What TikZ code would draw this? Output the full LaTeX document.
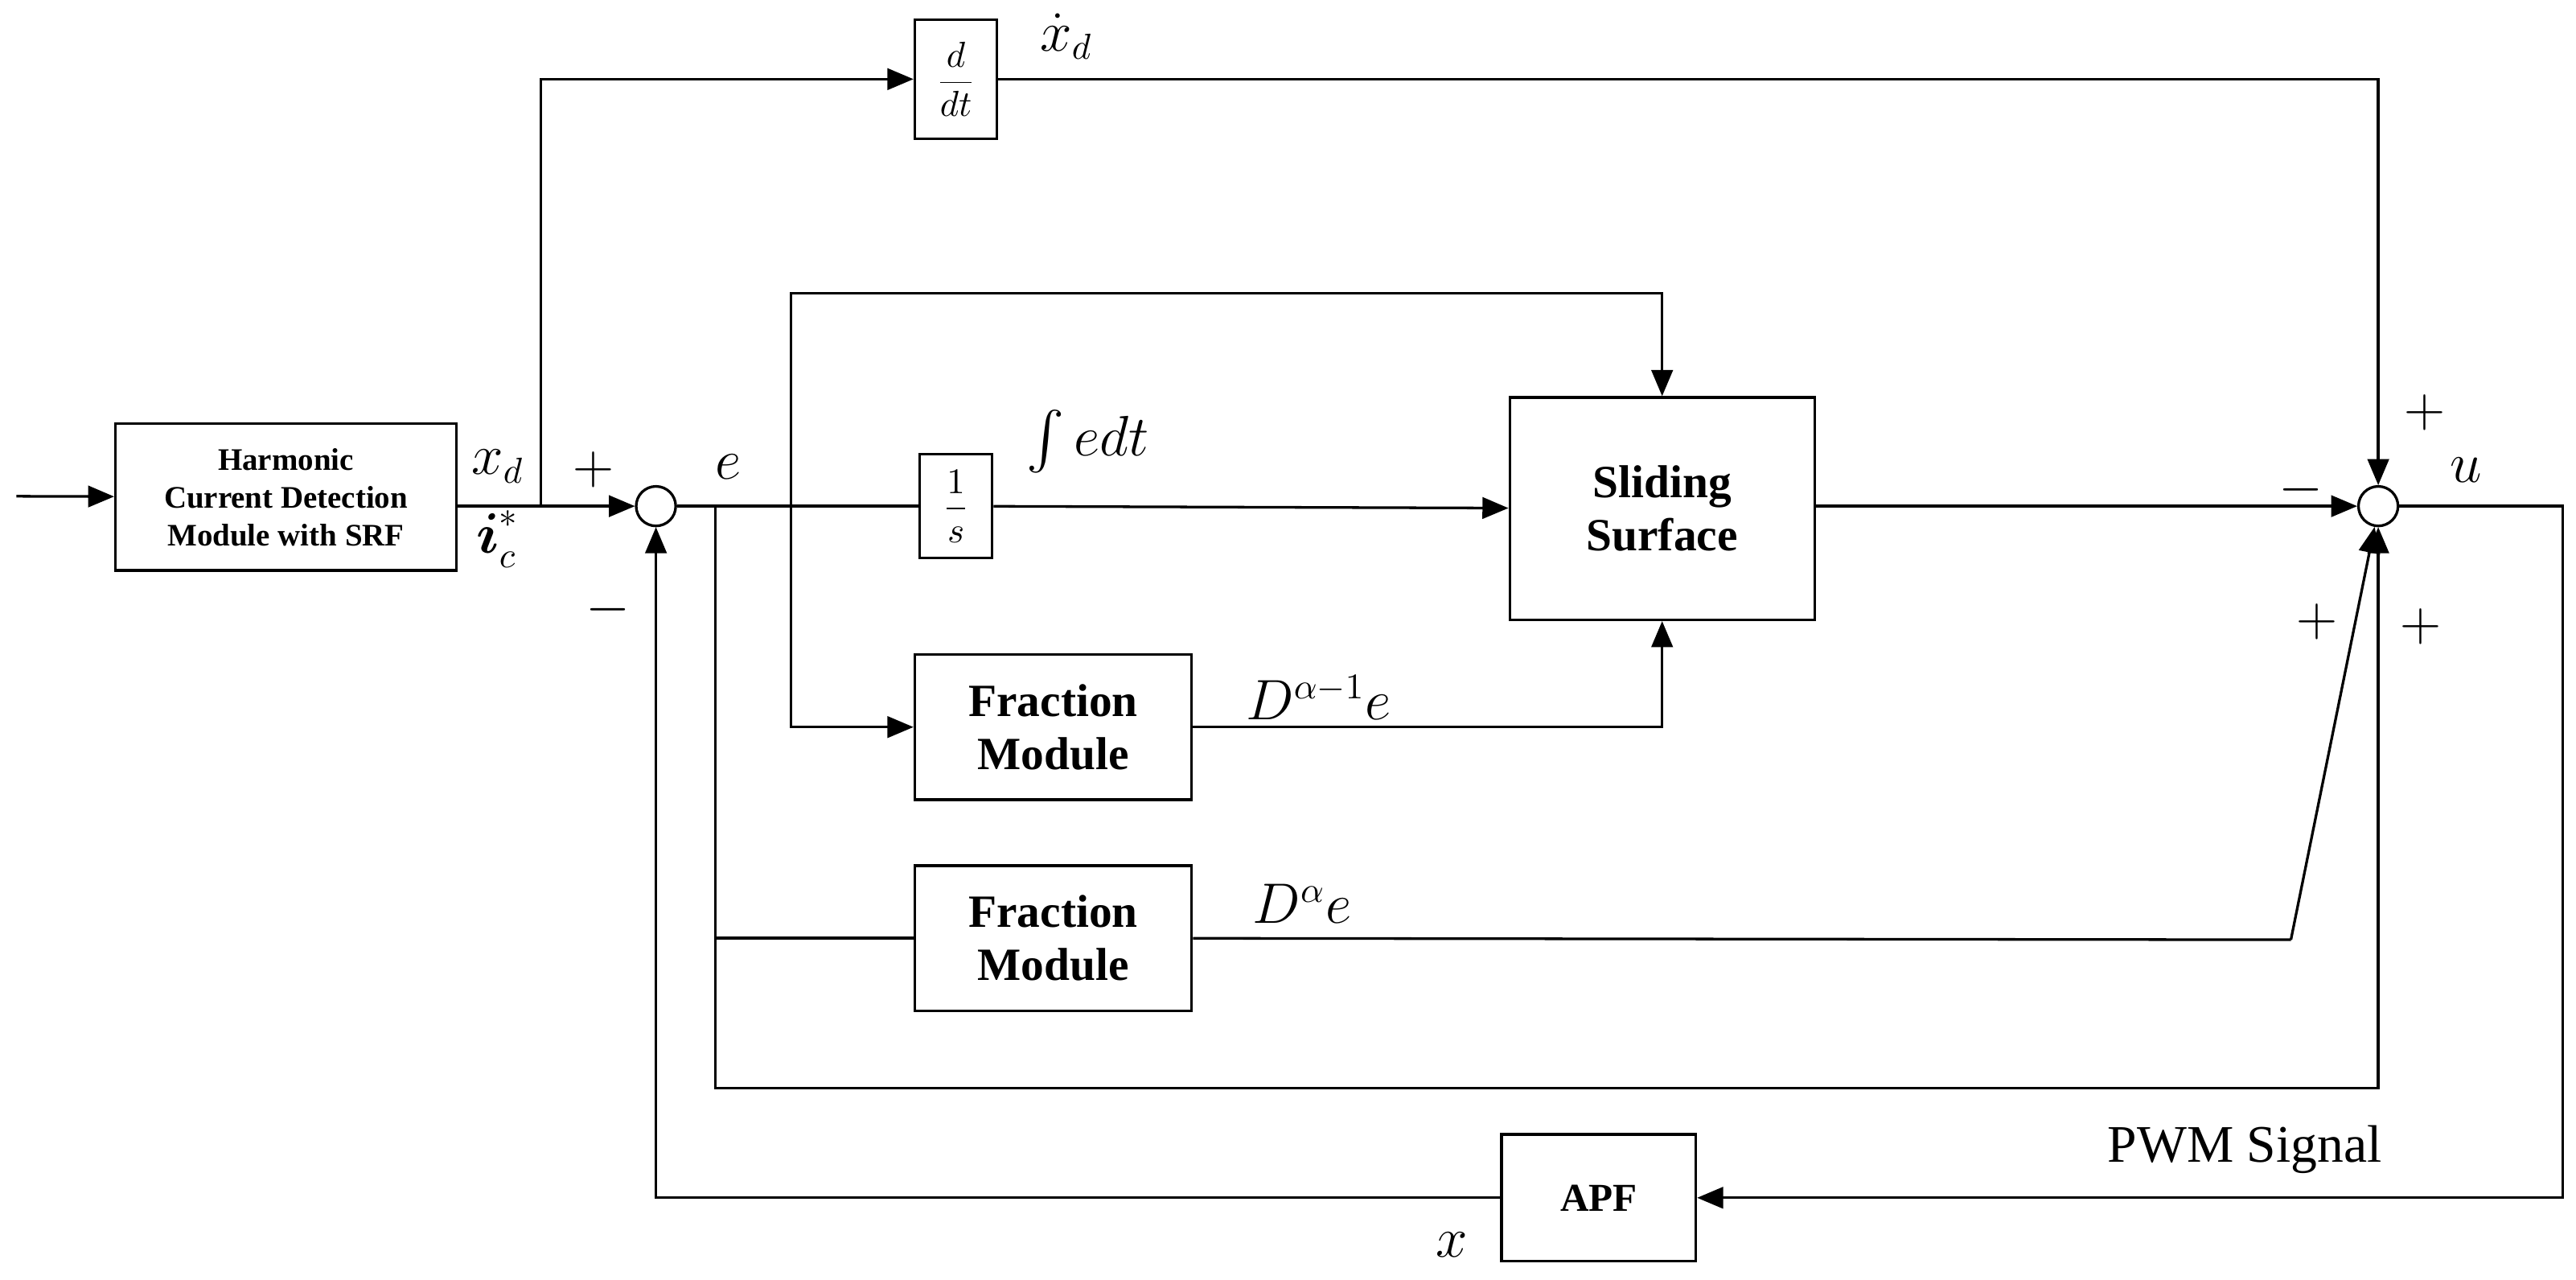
\documentclass[tikz,border=0pt]{standalone}
\usepackage{amsmath}
\usepackage{fontspec}
\setmainfont{Liberation Serif}
\usetikzlibrary{arrows}
\tikzstyle{block} = [rectangle, draw=black, thick, inner sep=0pt, align=center, font=\bfseries\fontsize{14}{16}\selectfont]
\tikzstyle{sum} = [circle, draw=black, thick, minimum size=12pt, inner sep=0pt]
\tikzstyle{lbl} = [font=\fontsize{16}{18}\selectfont]
\tikzstyle{arrow} = [thick,->,>=triangle 45]
\tikzstyle{line} = [thick]

\begin{document}
\begin{tikzpicture}[x=0.5pt,y=-0.5pt]
\useasboundingbox (0,0) rectangle (1563,776);

% Nodes
\node (hcd) [block, minimum width=103.5pt, minimum height=44.5pt, font=\bfseries\fontsize{9.5}{11.5}\selectfont] at (173.5,301.5) {Harmonic\\Current Detection\\Module with SRF};
\node (sum1) [sum] at (398,307) {};
\node (ddt) [block, minimum width=25pt, minimum height=36pt, font=\fontsize{11}{12}\selectfont] at (580,48) {$\dfrac{d}{dt}$};
\node (inv) [block, minimum width=22pt, minimum height=31.5pt, font=\fontsize{11}{12}\selectfont] at (580,307) {$\dfrac{1}{s}$};
\node (slide) [block, minimum width=92.5pt, minimum height=67.5pt] at (1008.5,308.5) {Sliding\\Surface};
\node (frac1) [block, minimum width=84pt, minimum height=44pt] at (639,441) {Fraction\\Module};
\node (frac2) [block, minimum width=84pt, minimum height=44pt] at (639,569) {Fraction\\Module};
\node (sum2) [sum] at (1443,307) {};
\node (apf) [block, minimum width=59pt, minimum height=38.5pt, font=\bfseries\fontsize{12}{14}\selectfont] at (970,726.5) {APF};
\coordinate (in) at (10,301);
\coordinate (xd) at (328,307);
\coordinate (eA) at (434,307);
\coordinate (eB) at (480,307);
\coordinate (bend) at (1390,570);

% Labels
\node [lbl] at (302,283) {$x_d$};
\node [lbl] at (302,327) {$\boldsymbol{i}_c^{*}$};
\node [lbl] at (360,285) {$+$};
\node [lbl] at (369,370) {$-$};
\node [lbl] at (442,283) {$e$};
\node [lbl] at (647,22) {$\dot{x}_d$};
\node [lbl] at (660,268) {$\int edt$};
\node [lbl] at (800,423) {$D^{\alpha-1}e$};
\node [lbl] at (790,548) {$D^{\alpha}e$};
\node [lbl] at (1396,297) {$-$};
\node [lbl] at (1471,250) {$+$};
\node [lbl] at (1406,377) {$+$};
\node [lbl] at (1469,380) {$+$};
\node [lbl] at (1496,285) {$u$};
\node [lbl] at (881,755) {$x$};
\node [lbl] at (1362,697) {PWM Signal};

% Arrows
\draw [arrow] (in) -- (hcd);
\draw [arrow] (hcd.east |- sum1) -- (sum1);
\draw [arrow] (xd) |- (ddt);
\draw [arrow] (ddt) -| (sum2);
\draw [line] (sum1) -- (inv);
\draw [arrow] (inv) -- (slide);
\draw [arrow] (eB) |- (slide.north |- 0,178) -- (slide.north);
\draw [arrow] (eB) |- (frac1);
\draw [arrow] (frac1) -| (slide.south);
\draw [line] (eA) |- (frac2);
\draw [line] (frac2) -- (bend);
\draw [arrow] (bend) -- (sum2.-100);
\draw [arrow] (eA) |- (sum2.south |- 0,660) -- (sum2.south);
\draw [arrow] (slide.east |- sum2) -- (sum2);
\draw [arrow] (sum2) -| (1555,0 |- apf) -- (apf);
\draw [arrow] (apf) -| (sum1);

\end{tikzpicture}
\end{document}
